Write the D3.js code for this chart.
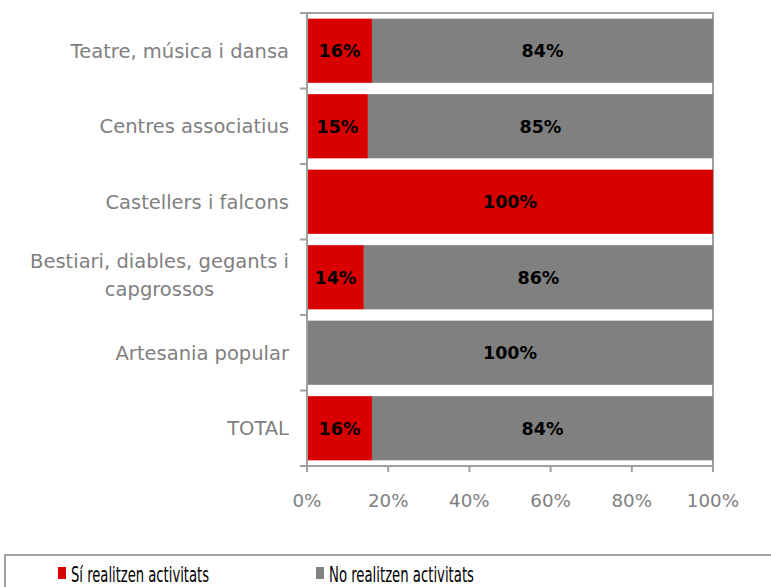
<!DOCTYPE html>
<html><head><meta charset="utf-8">
<script src="https://cdn.jsdelivr.net/npm/d3@7"></script>
<style>body{margin:0;background:#fff}svg{display:block}</style>
</head><body>
<svg id="c" width="771" height="587"></svg>
<script>
const categories = ["Teatre, música i dansa","Centres associatius","Castellers i falcons","Bestiari, diables, gegants i capgrossos","Artesania popular","TOTAL"];
const labelLines = [["Teatre, música i dansa"],["Centres associatius"],["Castellers i falcons"],["Bestiari, diables, gegants i","capgrossos"],["Artesania popular"],["TOTAL"]];
const siValues = [16,15,100,14,0,16];
const noValues = [84,85,0,86,100,84];
const seriesNames = ["Sí realitzen activitats","No realitzen activitats"];
const xTicks = [0,20,40,60,80,100];
const colors = ["#d90000","#808080"];

const svg = d3.select("#c");
const L = 307, R = 713, T = 13, B = 466;
const font = "'DejaVu Sans', sans-serif";
const fontC = "'DejaVu Sans Condensed', 'DejaVu Sans', sans-serif";
const x = d3.scaleLinear().domain([0,100]).range([L,R]);
const y = d3.scaleBand().domain(categories).range([T,B]).paddingInner(0.15).paddingOuter(0.075);

// plot border
svg.append("rect").attr("x",L).attr("y",T).attr("width",R-L).attr("height",B-T)
  .attr("fill","none").attr("stroke","#a0a0a0").attr("stroke-width",2);

const data = categories.map((c,i)=>({c,i,si:siValues[i],no:noValues[i]}));
const g = svg.append("g");
data.forEach(d=>{
  const segs=[{v0:0,v1:d.si,col:colors[0]},{v0:d.si,v1:d.si+d.no,col:colors[1]}];
  segs.forEach(s=>{
    if(s.v1-s.v0<=0) return;
    g.append("rect").attr("x",x(s.v0)).attr("y",y(d.c)).attr("width",x(s.v1)-x(s.v0)).attr("height",y.bandwidth()).attr("fill",s.col);
    g.append("text").attr("x",(x(s.v0)+x(s.v1))/2).attr("y",y(d.c)+y.bandwidth()/2)
      .attr("dy","0.36em").attr("text-anchor","middle").attr("font-family",font).attr("font-weight","bold")
      .attr("font-size",17.5).attr("fill","#000").text((s.v1-s.v0)+"%");
  });
});

// y axis
const yAxis = svg.append("g");
yAxis.append("line").attr("x1",L).attr("x2",L).attr("y1",T).attr("y2",B+4).attr("stroke","#a0a0a0").attr("stroke-width",2);
const bounds = d3.range(categories.length+1).map(i=>T+i*(B-T)/categories.length);
bounds.forEach(b=>yAxis.append("line").attr("x1",L-7).attr("x2",L).attr("y1",b).attr("y2",b).attr("stroke","#a0a0a0").attr("stroke-width",2));
categories.forEach((c,i)=>{
  const lines = labelLines[i];
  const cy = y(c)+y.bandwidth()/2;
  const lh = 28;
  if(lines.length===1){
    yAxis.append("text").attr("x",289).attr("y",cy).attr("dy","0.36em").attr("text-anchor","end")
      .attr("font-family",font).attr("font-size",19.5).attr("fill","#808080").text(lines[0]);
  } else {
    const y0 = cy - lh/2 - 2;
    const first = yAxis.append("text").attr("x",289).attr("y",y0).attr("dy","0.36em").attr("text-anchor","end")
      .attr("font-family",font).attr("font-size",19.5).attr("fill","#808080").text(lines[0]);
    const w = first.node().getComputedTextLength();
    const cx = 289 - w/2;
    lines.slice(1).forEach((ln,j)=>{
      yAxis.append("text").attr("x",cx).attr("y",y0+(j+1)*lh).attr("dy","0.36em").attr("text-anchor","middle")
        .attr("font-family",font).attr("font-size",19.5).attr("fill","#808080").text(ln);
    });
  }
});

// x axis
const xAxis = svg.append("g");
xAxis.append("line").attr("x1",L-1).attr("x2",R).attr("y1",B).attr("y2",B).attr("stroke","#a0a0a0").attr("stroke-width",2);
xTicks.forEach(t=>{
  xAxis.append("line").attr("x1",x(t)).attr("x2",x(t)).attr("y1",B).attr("y2",B+6).attr("stroke","#a0a0a0").attr("stroke-width",2);
  xAxis.append("text").attr("x",x(t)).attr("y",B+34).attr("dy","0.36em").attr("text-anchor","middle")
    .attr("font-family",font).attr("font-size",18.3).attr("fill","#808080").text(t+"%");
});

// legend
svg.append("rect").attr("x",5).attr("y",555).attr("width",780).attr("height",40).attr("fill","none").attr("stroke","#a0a0a0").attr("stroke-width",2);
const lx=[58,316], lw=[138,145];
seriesNames.forEach((n,i)=>{
  svg.append("rect").attr("x",lx[i]).attr("y",567).attr("width",8).attr("height",12).attr("fill",colors[i]);
  svg.append("text").attr("x",lx[i]+13).attr("y",582).attr("font-family",fontC).attr("font-size",21.5)
    .attr("textLength",lw[i]).attr("lengthAdjust","spacingAndGlyphs").attr("fill","#000").text(n);
});
</script>
</body></html>
